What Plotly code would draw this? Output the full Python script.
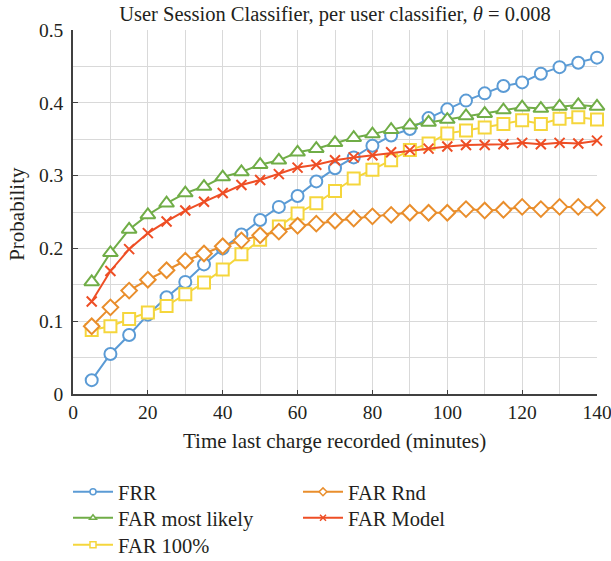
import plotly.graph_objects as go

x = [5, 10, 15, 20, 25, 30, 35, 40, 45, 50, 55, 60, 65, 70, 75, 80, 85, 90, 95, 100,
     105, 110, 115, 120, 125, 130, 135, 140]

frr = [0.019, 0.055, 0.081, 0.109, 0.133, 0.154, 0.178, 0.200, 0.219, 0.239, 0.257, 0.272,
       0.292, 0.310, 0.325, 0.341, 0.355, 0.364, 0.379, 0.391, 0.403, 0.413, 0.423, 0.428,
       0.440, 0.449, 0.455, 0.462]
far_most_likely = [0.154, 0.194, 0.226, 0.246, 0.262, 0.276, 0.285, 0.298, 0.305, 0.315,
                   0.321, 0.332, 0.337, 0.345, 0.352, 0.357, 0.363, 0.369, 0.373, 0.377,
                   0.382, 0.385, 0.390, 0.394, 0.392, 0.395, 0.397, 0.395]
far_100 = [0.088, 0.093, 0.103, 0.112, 0.121, 0.137, 0.153, 0.171, 0.192, 0.212, 0.230,
           0.248, 0.262, 0.279, 0.296, 0.308, 0.321, 0.335, 0.344, 0.358, 0.362, 0.366,
           0.371, 0.376, 0.371, 0.378, 0.380, 0.377]
far_rnd = [0.093, 0.119, 0.142, 0.157, 0.170, 0.183, 0.193, 0.203, 0.211, 0.218, 0.223,
           0.231, 0.234, 0.238, 0.241, 0.244, 0.246, 0.249, 0.249, 0.249, 0.254, 0.252,
           0.253, 0.257, 0.254, 0.257, 0.257, 0.256]
far_model = [0.127, 0.169, 0.199, 0.221, 0.237, 0.252, 0.264, 0.276, 0.287, 0.294, 0.302,
             0.311, 0.315, 0.321, 0.325, 0.328, 0.332, 0.335, 0.337, 0.340, 0.342, 0.342,
             0.343, 0.345, 0.343, 0.345, 0.344, 0.348]

y_tickvals = [0, 0.1, 0.2, 0.3, 0.4, 0.5]
y_ticktext = ["0", "0.1", "0.2", "0.3", "0.4", "0.5"]
x_tickvals = [0, 20, 40, 60, 80, 100, 120, 140]

BLUE = "#5B9BD5"
GREEN = "#70AD47"
YELLOW = "#F5D63C"
ORANGE = "#E98E2C"
RED = "#EE4E25"

FONT = "Liberation Serif"
TXT = "#231F20"

# name, values, colour, symbol, size, legend id, legend column x (px), row y (px)
series = [
    ("FRR", frr, BLUE, "circle", 12, "legend", 68, 492),
    ("FAR most likely", far_most_likely, GREEN, "triangle-up", 13, "legend2", 68, 518),
    ("FAR 100%", far_100, YELLOW, "square", 12, "legend3", 68, 545),
    ("FAR Rnd", far_rnd, ORANGE, "diamond", 12, "legend4", 298, 492),
    ("FAR Model", far_model, RED, "x-thin", 10, "legend5", 298, 518),
]

fig = go.Figure()
for name, ys, color, sym, size, lg, lx, ly in series:
    fig.add_trace(go.Scatter(
        x=x, y=ys, mode="lines+markers", name=name, showlegend=False,
        cliponaxis=False,
        line=dict(color=color, width=2),
        marker=dict(symbol=sym, size=size, color="white",
                    line=dict(color=color, width=2)),
    ))
# legend-only entries with small symbols
legends = {}
for name, ys, color, sym, size, lg, lx, ly in series:
    fig.add_trace(go.Scatter(
        x=[None], y=[None], mode="lines+markers", name=name, legend=lg,
        line=dict(color=color, width=2),
        marker=dict(symbol=sym, size=6, color="white",
                    line=dict(color=color, width=1.5)),
    ))
    legends[lg] = dict(
        xref="container", yref="container",
        x=lx / 611, y=1 - ly / 561, xanchor="left", yanchor="middle",
        orientation="v", font=dict(family=FONT, size=20.5, color=TXT),
        tracegroupgap=0, bgcolor="rgba(0,0,0,0)", itemwidth=40,
    )

fig.add_annotation(
    text="Probability", textangle=-90,
    xref="paper", yref="paper", x=(17 - 73) / 524, y=0.495,
    xanchor="center", yanchor="middle", showarrow=False,
    font=dict(family=FONT, size=21, color=TXT),
)
fig.add_annotation(
    text="Time last charge recorded (minutes)",
    xref="paper", yref="paper", x=(334 - 73) / 524, y=(394 - 441) / 364,
    xanchor="center", yanchor="middle", showarrow=False,
    font=dict(family=FONT, size=21, color=TXT),
)

fig.update_layout(
    width=611, height=561,
    margin=dict(l=73, r=14, t=30, b=167, autoexpand=False),
    paper_bgcolor="white", plot_bgcolor="white",
    font=dict(family=FONT, size=19, color=TXT),
    title=dict(
        text="User Session Classifier, per user classifier, <i>θ</i> = 0.008",
        x=335 / 611, xanchor="center", y=1 - 14 / 561, yanchor="middle",
        font=dict(family=FONT, size=20.5, color=TXT),
    ),
    xaxis=dict(
        range=[0, 140], tickvals=x_tickvals,
        showgrid=True, gridcolor="#D9D9D9", gridwidth=1,
        minor=dict(dtick=10, tick0=0, showgrid=True, gridcolor="#D9D9D9", gridwidth=1),
        showline=True, linecolor="#404040", linewidth=1.5,
        ticks="inside", ticklen=4, tickcolor="#404040",
        zeroline=False, ticklabeloverflow="allow",
        tickfont=dict(family=FONT, size=19.5, color=TXT),
    ),
    yaxis=dict(
        range=[0, 0.5], tickvals=y_tickvals, ticktext=y_ticktext,
        showgrid=True, gridcolor="#D9D9D9", gridwidth=1,
        minor=dict(dtick=0.05, tick0=0, showgrid=True, gridcolor="#D9D9D9", gridwidth=1),
        showline=True, linecolor="#404040", linewidth=1.5,
        ticks="inside", ticklen=5, tickcolor="#404040",
        zeroline=False, ticklabelstandoff=4, ticklabeloverflow="allow",
        tickfont=dict(family=FONT, size=19.5, color=TXT),
    ),
    **legends,
)

fig.write_html("out.html")
